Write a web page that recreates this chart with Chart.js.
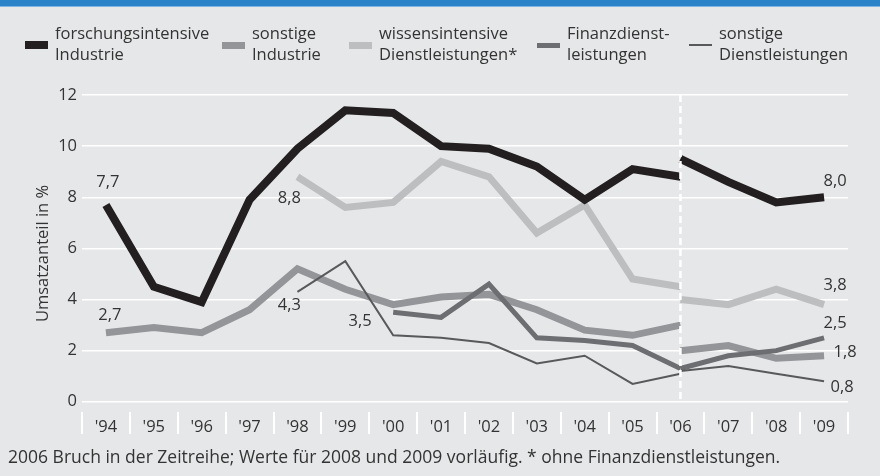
<!DOCTYPE html>
<html>
<head>
<meta charset="utf-8">
<script src="https://cdn.jsdelivr.net/npm/chart.js@4/dist/chart.umd.min.js"></script>
<style>
  body { margin: 0; background: #e6e7e9; font-family: "Open Sans", sans-serif; color: #333; }
  #wrap { position: relative; width: 880px; height: 476px; overflow: hidden; }
  #topbar { position: absolute; left: 0; top: 0; width: 880px; height: 6px; background: #2a82c8; border-bottom: 1px solid #7fb5e0; }
  #chart { position: absolute; left: 0; top: 0; }
  .leg { position: absolute; top: 23px; font-size: 16.5px; line-height: 20.5px; white-space: nowrap; }
  .mark { position: absolute; width: 23px; }
  #note { position: absolute; left: 8px; top: 444px; font-size: 17.5px; white-space: nowrap; }
</style>
</head>
<body>
<div id="wrap">
  <div id="topbar"></div>
  <canvas id="chart" width="880" height="476"></canvas>
  <div id="legend"></div>
  <div id="note">2006 Bruch in der Zeitreihe; Werte für 2008 und 2009 vorläufig. * ohne Finanzdienstleistungen.</div>
</div>
<script>
// Jahre
const years = ["'94", "'95", "'96", "'97", "'98", "'99", "'00", "'01", "'02", "'03", "'04", "'05", "'06", "'07", "'08", "'09"];
const yTicks = [0, 2, 4, 6, 8, 10, 12];

// Werte bis 2006 (alte Zeitreihe)
const forschungAlt = [7.7, 4.5, 3.9, 7.9, 9.9, 11.4, 11.3, 10.0, 9.9, 9.2, 7.9, 9.1, 8.8, null, null, null];
const industrieAlt = [2.7, 2.9, 2.7, 3.6, 5.2, 4.4, 3.8, 4.1, 4.2, 3.6, 2.8, 2.6, 3.0, null, null, null];
const wissenAlt = [null, null, null, null, 8.8, 7.6, 7.8, 9.4, 8.8, 6.6, 7.7, 4.8, 4.5, null, null, null];
const finanzAlt = [null, null, null, null, null, null, 3.5, 3.3, 4.6, 2.5, 2.4, 2.2, 1.3, null, null, null];
const dienstAlt = [null, null, null, null, 4.3, 5.5, 2.6, 2.5, 2.3, 1.5, 1.8, 0.7, 1.1, null, null, null];

// Werte ab 2006 (neue Zeitreihe)
const forschungNeu = [null, null, null, null, null, null, null, null, null, null, null, null, 9.5, 8.6, 7.8, 8.0];
const industrieNeu = [null, null, null, null, null, null, null, null, null, null, null, null, 2.0, 2.2, 1.7, 1.8];
const wissenNeu = [null, null, null, null, null, null, null, null, null, null, null, null, 4.0, 3.8, 4.4, 3.8];
const finanzNeu = [null, null, null, null, null, null, null, null, null, null, null, null, 1.3, 1.8, 2.0, 2.5];
const dienstNeu = [null, null, null, null, null, null, null, null, null, null, null, null, 1.2, 1.4, 1.1, 0.8];

const series = [
    { label: ['forschungsintensive', 'Industrie'], alt: forschungAlt, neu: forschungNeu, color: '#231f20', width: 8, order: 0 },
    { label: ['sonstige', 'Industrie'], alt: industrieAlt, neu: industrieNeu, color: '#939598', width: 7, order: 3 },
    { label: ['wissensintensive', 'Dienstleistungen*'], alt: wissenAlt, neu: wissenNeu, color: '#bcbec0', width: 7, order: 4 },
    { label: ['Finanzdienst-', 'leistungen'], alt: finanzAlt, neu: finanzNeu, color: '#6d6e71', width: 5, order: 2 },
    { label: ['sonstige', 'Dienstleistungen'], alt: dienstAlt, neu: dienstNeu, color: '#58595b', width: 2, order: 1 }
];

// Beschriftete Endpunkte: Serie, Segment, Index, Versatz
const pointLabels = [
    { s: 0, seg: 'alt', i: 0, dx: 2, dy: -23 },
    { s: 1, seg: 'alt', i: 0, dx: 4, dy: -17 },
    { s: 2, seg: 'alt', i: 4, dx: -8, dy: 21 },
    { s: 4, seg: 'alt', i: 4, dx: -8, dy: 13 },
    { s: 3, seg: 'alt', i: 6, dx: -33, dy: 9 },
    { s: 0, seg: 'neu', i: 15, dx: 11, dy: -16 },
    { s: 2, seg: 'neu', i: 15, dx: 11, dy: -19 },
    { s: 3, seg: 'neu', i: 15, dx: 11, dy: -15 },
    { s: 1, seg: 'neu', i: 15, dx: 21, dy: -3 },
    { s: 4, seg: 'neu', i: 15, dx: 18, dy: 6 }
];

const legendPos = [25, 222, 349, 537, 689];

// HTML-Legende
const legendEl = document.getElementById('legend');
series.forEach((s, k) => {
    const m = document.createElement('div');
    m.className = 'mark';
    m.style.left = legendPos[k] + 'px';
    m.style.top = (45 - s.width / 2) + 'px';
    m.style.height = s.width + 'px';
    m.style.background = s.color;
    legendEl.appendChild(m);
    const t = document.createElement('div');
    t.className = 'leg';
    t.style.left = (legendPos[k] + 30) + 'px';
    t.innerHTML = s.label.join('<br>');
    legendEl.appendChild(t);
});

const datasets = [];
series.forEach(s => {
    ['alt', 'neu'].forEach(seg => {
        datasets.push({
            label: s.label.join(' '),
            data: s[seg],
            borderColor: s.color,
            borderWidth: s.width,
            borderCapStyle: 'butt',
            borderJoinStyle: 'miter',
            pointRadius: 0,
            tension: 0,
            spanGaps: false,
            order: s.order
        });
    });
});

const font = { family: '"Open Sans", sans-serif', size: 16.5 };

const extras = {
    id: 'extras',
    afterDatasetsDraw(chart) {
        const ctx = chart.ctx;
        const x = chart.scales.x;
        const y = chart.scales.y;
        // Bruchlinie 2006
        const bx = x.getPixelForValue(years.indexOf("'06"));
        ctx.save();
        ctx.strokeStyle = '#ffffff';
        ctx.lineWidth = 2.5;
        ctx.setLineDash([7, 4]);
        ctx.beginPath();
        ctx.moveTo(bx, y.getPixelForValue(12));
        ctx.lineTo(bx, y.getPixelForValue(0));
        ctx.stroke();
        ctx.restore();
        // Werte
        ctx.save();
        ctx.fillStyle = '#333';
        ctx.font = '16.5px "Open Sans", sans-serif';
        ctx.textAlign = 'center';
        ctx.textBaseline = 'middle';
        pointLabels.forEach(p => {
            const dsIndex = p.s * 2 + (p.seg === 'neu' ? 1 : 0);
            const pt = chart.getDatasetMeta(dsIndex).data[p.i];
            const v = series[p.s][p.seg][p.i];
            ctx.fillText(v.toFixed(1).replace('.', ','), pt.x + p.dx, pt.y + p.dy);
        });
        ctx.restore();
    }
};

new Chart(document.getElementById('chart'), {
    type: 'line',
    data: { labels: years, datasets: datasets },
    options: {
        responsive: false,
        animation: false,
        layout: { padding: { top: 95, right: 32, bottom: 0, left: 0 } },
        plugins: {
            legend: { display: false },
            tooltip: { enabled: false }
        },
        scales: {
            x: {
                offset: true,
                grid: { offset: true, drawOnChartArea: false, drawTicks: true, tickLength: 22, color: '#ffffff', lineWidth: 2 },
                border: { display: false },
                ticks: { color: '#333', font: font, padding: -17, maxRotation: 0, autoSkip: false },
                afterFit: scale => { scale.height = 64; }
            },
            y: {
                min: -0.4,
                max: 12,
                afterBuildTicks: scale => { scale.ticks = yTicks.map(v => ({ value: v })); },
                grid: { color: '#ffffff', lineWidth: 1.5, drawTicks: false },
                border: { display: false },
                ticks: { color: '#333', font: font, padding: 5 },
                title: { display: true, text: 'Umsatzanteil in %', color: '#333', font: font, padding: { top: 33, bottom: 0 } },
                afterFit: scale => { scale.width = 82; }
            }
        }
    },
    plugins: [extras]
});
</script>
</body>
</html>
